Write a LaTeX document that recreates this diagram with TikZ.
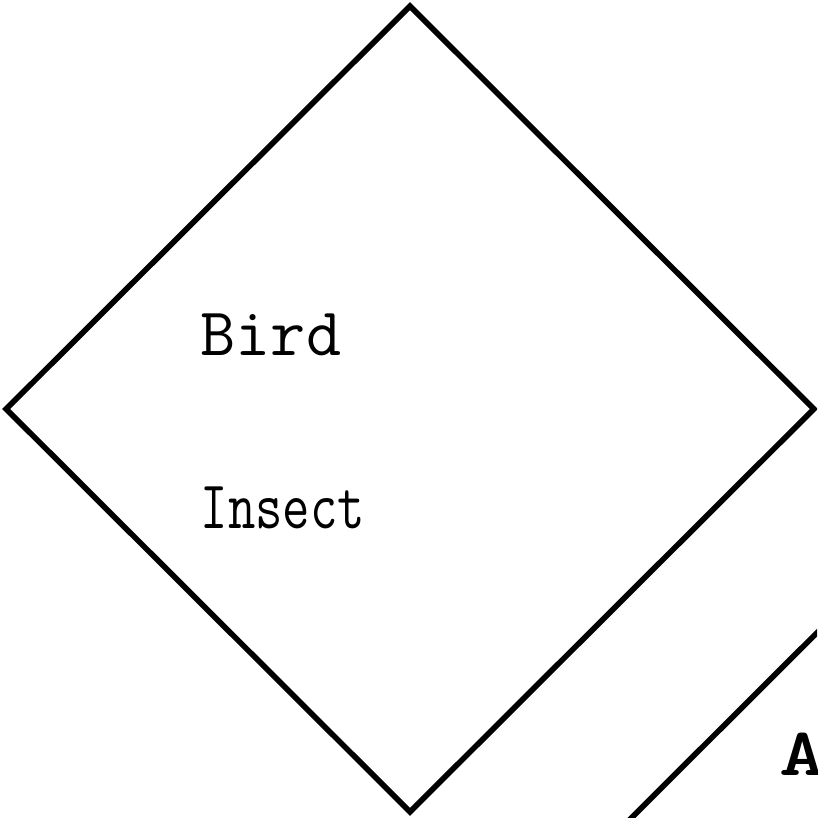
\documentclass[tikz,border=0pt]{standalone}
\usepackage{tikz}
\usetikzlibrary{shapes.geometric}

\begin{document}
\begin{tikzpicture}[
    every node/.style={font=\fontsize{19.4}{22}\selectfont\ttfamily},
    group/.style={draw, diamond, line width=1.6pt, inner sep=0pt, minimum width=8.1cm, minimum height=8.08cm},
    label/.style={anchor=base west, inner sep=0pt}
]
\useasboundingbox (0,0) rectangle (8.17,-8.18);
\clip (0,0) rectangle (8.17,-8.18);

% Losanges
\node[group] (animal) at (4.10,-4.09) {};
\node[group] (other) at (9.90,-8.63) {};

% Etiquettes
\node[label] (bird) at (2.00,-3.56) {Bird};
\node[label] (insect) at (2.00,-5.28) {\scalebox{0.78}[1]{Insect}};
\node[label, font=\fontsize{19.4}{22}\selectfont\ttfamily\bfseries] (alabel) at (7.79,-7.75) {\scalebox{1.3}[1]{A}};

\end{tikzpicture}
\end{document}
